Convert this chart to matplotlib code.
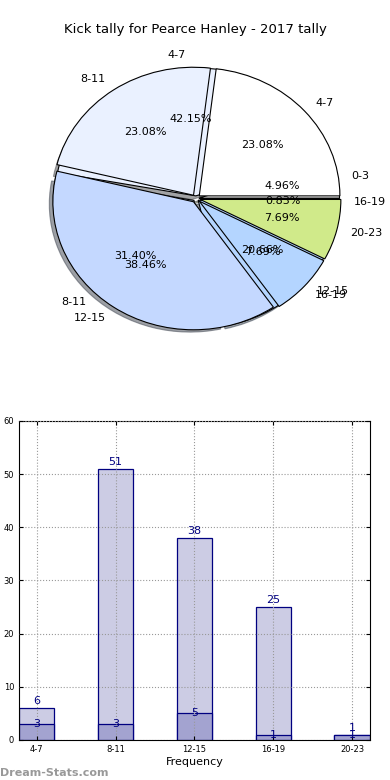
import numpy as np
import matplotlib
matplotlib.use('Agg')
import matplotlib.pyplot as plt

# data
title = 'Kick tally for Pearce Hanley - 2017 tally'
# the two pies drawn on top of each other (first one has shifted labels in the original)
pie_a_labels = ['0-3', '4-7', '8-11', '12-15', '16-19']
pie_a_values = [6, 51, 38, 25, 1]
pie_b_labels = ['4-7', '8-11', '12-15', '16-19', '20-23']
pie_b_values = [3, 3, 5, 1, 1]
# bar chart
bar_labels = ['4-7', '8-11', '12-15', '16-19', '20-23']
bar_total = [6, 51, 38, 25, 1]
bar_part = [3, 3, 5, 1, 1]

colors = ['#ffffff', '#eaf1ff', '#c4d8ff', '#b4d5ff', '#d0ea8a']

fig = plt.figure(figsize=(3.9, 7.8), dpi=100)

# pie part - no equal aspect, so it comes out as an ellipse like the original
ax1 = fig.add_axes([0.0378, 0.534, 0.9295, 0.423])
ax1.pie(pie_a_values, labels=pie_a_labels, colors=colors, autopct='%1.2f%%',
        explode=[0.02] * 5, shadow=True, startangle=0, radius=0.97,
        wedgeprops={'edgecolor': 'black', 'linewidth': 0.8},
        textprops={'fontsize': 8})
ax1.pie(pie_b_values, labels=pie_b_labels, colors=colors, autopct='%1.2f%%',
        explode=[0.03] * 5, startangle=0, radius=0.97,
        wedgeprops={'edgecolor': 'black', 'linewidth': 0.8},
        textprops={'fontsize': 8})
ax1.set_aspect('auto')
ax1.set_xlim(-1.25, 1.25)
ax1.set_ylim(-1.25, 1.25)
fig.text(0.5, 1 - 30 / 780, title, fontsize=9.5, ha='center', va='center')

# bar part
ax2 = fig.add_axes([0.0487, 0.0513, 0.9, 0.409])
x = np.arange(len(bar_labels))
ax2.bar(x, bar_total, width=0.45, color='#ccccE4', edgecolor='navy', linewidth=0.9)
ax2.bar(x, bar_part, width=0.45, color='#a3a3d0', edgecolor='navy', linewidth=0.9)
for xi, v in zip(x, bar_total):
    ax2.text(xi, v + 0.4, str(v), ha='center', va='bottom', color='navy', fontsize=8)
for xi, v in zip(x, bar_part):
    ax2.text(xi, v, str(v), ha='center', va='center', color='navy', fontsize=8)
ax2.set_xlim(-0.225, 4.225)
ax2.set_ylim(0, 60)
ax2.set_xticks(x)
ax2.set_xticklabels(bar_labels)
ax2.set_yticks(range(0, 61, 10))
ax2.tick_params(labelsize=6, direction='in', top=True, right=True, length=3)
ax2.grid(True, linestyle=':', color='#999999', linewidth=0.8)
ax2.set_axisbelow(False)
ax2.set_xlabel('Frequency', fontsize=8, labelpad=2)

fig.text(0.0, 0.005, 'Dream-Stats.com', color='#999999', fontsize=8, fontweight='bold')

fig.savefig('out.png', dpi=100)
